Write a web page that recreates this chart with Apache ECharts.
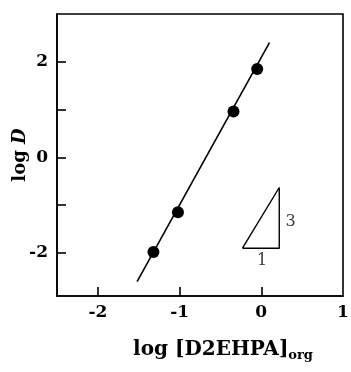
<!DOCTYPE html>
<html>
<head>
<meta charset="utf-8">
<script src="https://cdn.jsdelivr.net/npm/echarts@6/dist/echarts.min.js"></script>
<style>
  html, body { margin: 0; padding: 0; background: #fff; }
  #chart { width: 351px; height: 372px; }
</style>
</head>
<body>
<div id="chart"></div>
<script>
// measured points: log [D2EHPA]org vs log D
const logD2EHPA = [-1.32, -1.02, -0.34, -0.05];
const logD = [-1.98, -1.15, 0.96, 1.85];

// fitted line (slope ~3), end points
const fitLine = [[-1.52, -2.6], [0.1, 2.4]];

// slope triangle and its labels
const slopeTriangle = [[-0.23, -1.9], [0.22, -1.9], [0.22, -0.63], [-0.23, -1.9]];
const slopeLabels = [[0.36, -1.35, "3"], [0.01, -2.17, "1"]];

const xTicks = [-2, -1, 0];
const xTickLabels = [-2, -1, 0, 1];
const yTicks = [-2, -1, 0, 1, 2];
const yTickLabels = [-2, 0, 2];

const font = "DejaVu Serif";
const chart = echarts.init(document.getElementById("chart"));

chart.setOption({
  animation: false,
  grid: {
    left: 57, right: 8, top: 14, bottom: 76,
    outerBoundsMode: "none",
    show: true, borderColor: "#000", borderWidth: 1.6,
  },
  xAxis: {
    type: "value",
    min: -2.5,
    max: 1,
    splitLine: { show: false },
    axisLine: { onZero: false, lineStyle: { color: "#000", width: 1.6 } },
    axisTick: { inside: true, length: 9, customValues: xTicks, lineStyle: { color: "#000", width: 1.6 } },
    axisLabel: {
      customValues: xTickLabels,
      margin: 8,
      color: "#000",
      fontFamily: font,
      fontWeight: "bold",
      fontSize: 17,
      formatter: (v) => String(v),
      showMaxLabel: true,
    },
    name: "{n|log [D2EHPA]}{s|org}",
    nameLocation: "middle",
    nameGap: 42,
    nameMoveOverlap: false,
    nameTextStyle: {
      padding: [0, 0, 0, 46],
      rich: {
        n: { fontFamily: font, fontWeight: "bold", fontSize: 20, color: "#000" },
        s: { fontFamily: font, fontWeight: "bold", fontSize: 13, color: "#000", verticalAlign: "bottom", padding: [11, 0, 0, 0] },
      },
    },
  },
  yAxis: {
    type: "value",
    min: -2.9,
    max: 3,
    splitLine: { show: false },
    axisLine: { onZero: false, lineStyle: { color: "#000", width: 1.6 } },
    axisTick: { inside: true, length: 9, customValues: yTicks, lineStyle: { color: "#000", width: 1.6 } },
    axisLabel: {
      customValues: yTickLabels,
      margin: 9,
      color: "#000",
      fontFamily: font,
      fontWeight: "bold",
      fontSize: 17,
      formatter: (v) => String(v),
    },
    name: "{n|log }{i|D}",
    nameLocation: "middle",
    nameGap: 28,
    nameRotate: 90,
    nameMoveOverlap: false,
    nameTextStyle: {
      rich: {
        n: { fontFamily: font, fontWeight: "bold", fontSize: 18, color: "#000" },
        i: { fontFamily: font, fontWeight: "bold", fontStyle: "italic", fontSize: 18, color: "#000" },
      },
    },
  },
  series: [
    {
      type: "line",
      data: fitLine,
      symbol: "none",
      lineStyle: { color: "#000", width: 1.6 },
      z: 2,
    },
    {
      type: "scatter",
      data: logD2EHPA.map((x, i) => [x, logD[i]]),
      symbol: "circle",
      symbolSize: 12,
      itemStyle: { color: "#000", opacity: 1 },
      z: 3,
    },
    {
      type: "line",
      data: slopeTriangle,
      symbol: "none",
      lineStyle: { color: "#000", width: 1.4 },
    },
    {
      type: "scatter",
      data: slopeLabels,
      symbolSize: 0,
      label: {
        show: true,
        position: "inside",
        formatter: (p) => p.data[2],
        color: "#000",
        fontFamily: font,
        fontSize: 16,
      },
    },
  ],
});
</script>
</body>
</html>
